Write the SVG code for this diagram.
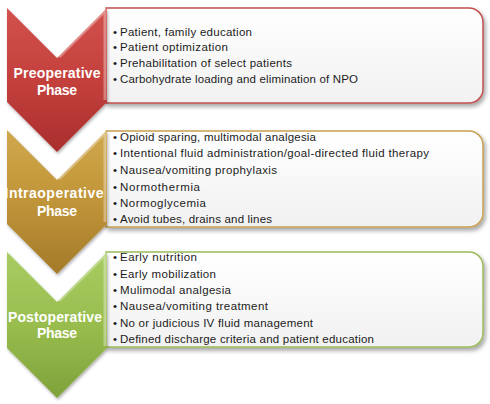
<svg xmlns="http://www.w3.org/2000/svg" width="490" height="404" viewBox="0 0 490 404">
<defs>
  <linearGradient id="gRed" x1="0" y1="0" x2="0" y2="1">
    <stop offset="0" stop-color="#d2524e"/>
    <stop offset="0.5" stop-color="#c4403c"/>
    <stop offset="1" stop-color="#a92e2c"/>
  </linearGradient>
  <linearGradient id="gGold" x1="0" y1="0" x2="0" y2="1">
    <stop offset="0" stop-color="#d0a84c"/>
    <stop offset="0.5" stop-color="#c09438"/>
    <stop offset="1" stop-color="#a47a2a"/>
  </linearGradient>
  <linearGradient id="gGreen" x1="0" y1="0" x2="0" y2="1">
    <stop offset="0" stop-color="#a9cc62"/>
    <stop offset="0.5" stop-color="#98bd4e"/>
    <stop offset="1" stop-color="#7fa23a"/>
  </linearGradient>
  <linearGradient id="gBox" x1="0" y1="0" x2="0" y2="1">
    <stop offset="0" stop-color="#ffffff"/>
    <stop offset="1" stop-color="#f1f1f1"/>
  </linearGradient>
  <filter id="shadow" x="-10%" y="-10%" width="125%" height="130%">
    <feDropShadow dx="2" dy="3" stdDeviation="2" flood-color="#000" flood-opacity="0.35"/>
  </filter>
  <filter id="cshadow" x="-10%" y="-10%" width="130%" height="125%">
    <feDropShadow dx="1" dy="2" stdDeviation="1.5" flood-color="#000" flood-opacity="0.3"/>
  </filter>
</defs>
<style>
  .box { fill: url(#gBox); stroke-width: 1.5; filter: url(#shadow); }
  .chev { filter: url(#cshadow); }
  .hl { fill: none; stroke: #ffffff; stroke-opacity: 0.35; stroke-width: 3; }
  .lbl { font-family: "Liberation Sans", Arial, sans-serif; font-weight: bold; font-size: 14px; fill: #ffffff; text-anchor: middle; }
  .txt { font-family: "Liberation Sans", Arial, sans-serif; font-size: 11.5px; fill: #1c1c1c; }
</style>
<g id="connectors"/>

<g id="preoperative">
  <path class="box" stroke="#c0504d" d="M106,8 H469 A14,14 0 0 1 483,22 V89 A14,14 0 0 1 469,103 H106 Z"/>
  <path class="chev" fill="url(#gRed)" d="M7,8 L57,58 L107,8 V102 L57,152 L7,102 Z"/>
  <path class="hl" d="M59,57 L105,11 V100"/>
  <text class="lbl" x="57" y="78" textLength="87">Preoperative</text>
  <text class="lbl" x="57" y="95" textLength="40">Phase</text>
  <text class="txt" x="113" y="36">•</text>
  <text class="txt" x="120" y="36" textLength="132">Patient, family education</text>
  <text class="txt" x="113" y="51">•</text>
  <text class="txt" x="120" y="51" textLength="108">Patient optimization</text>
  <text class="txt" x="113" y="67">•</text>
  <text class="txt" x="120" y="67" textLength="172">Prehabilitation of select patients</text>
  <text class="txt" x="113" y="83">•</text>
  <text class="txt" x="120" y="83" textLength="238">Carbohydrate loading and elimination of NPO</text>
</g>

<g id="intraoperative">
  <path class="box" stroke="#c8a052" d="M106,131 H469 A14,14 0 0 1 483,145 V213 A14,14 0 0 1 469,227 H106 Z"/>
  <path class="chev" fill="url(#gGold)" d="M7,130 L57,180 L107,130 V224 L57,274 L7,224 Z"/>
  <path class="hl" d="M59,179 L105,133 V222"/>
  <text class="lbl" x="54" y="198" textLength="99">Intraoperative</text>
  <text class="lbl" x="57" y="216" textLength="40">Phase</text>
  <text class="txt" x="113" y="141">•</text>
  <text class="txt" x="120" y="141" textLength="196">Opioid sparing, multimodal analgesia</text>
  <text class="txt" x="113" y="157">•</text>
  <text class="txt" x="120" y="157" textLength="309">Intentional fluid administration/goal-directed fluid therapy</text>
  <text class="txt" x="113" y="174">•</text>
  <text class="txt" x="120" y="174" textLength="157">Nausea/vomiting prophylaxis</text>
  <text class="txt" x="113" y="191">•</text>
  <text class="txt" x="120" y="191" textLength="80">Normothermia</text>
  <text class="txt" x="113" y="207">•</text>
  <text class="txt" x="120" y="207" textLength="86">Normoglycemia</text>
  <text class="txt" x="113" y="223">•</text>
  <text class="txt" x="120" y="223" textLength="152">Avoid tubes, drains and lines</text>
</g>

<g id="postoperative">
  <path class="box" stroke="#9bbb59" d="M106,252 H469 A14,14 0 0 1 483,266 V333 A14,14 0 0 1 469,347 H106 Z"/>
  <path class="chev" fill="url(#gGreen)" d="M7,252 L57,302 L107,252 V348 L57,398 L7,348 Z"/>
  <path class="hl" d="M59,301 L105,255 V346"/>
  <text class="lbl" x="55" y="322" textLength="94">Postoperative</text>
  <text class="lbl" x="57" y="338" textLength="40">Phase</text>
  <text class="txt" x="113" y="261">•</text>
  <text class="txt" x="120" y="261" textLength="77">Early nutrition</text>
  <text class="txt" x="113" y="278">•</text>
  <text class="txt" x="120" y="278" textLength="96">Early mobilization</text>
  <text class="txt" x="113" y="294">•</text>
  <text class="txt" x="120" y="294" textLength="111">Mulimodal analgesia</text>
  <text class="txt" x="113" y="310">•</text>
  <text class="txt" x="120" y="310" textLength="148">Nausea/vomiting treatment</text>
  <text class="txt" x="113" y="327">•</text>
  <text class="txt" x="120" y="327" textLength="193">No or judicious IV fluid management</text>
  <text class="txt" x="113" y="343">•</text>
  <text class="txt" x="120" y="343" textLength="254">Defined discharge criteria and patient education</text>
</g>
</svg>
